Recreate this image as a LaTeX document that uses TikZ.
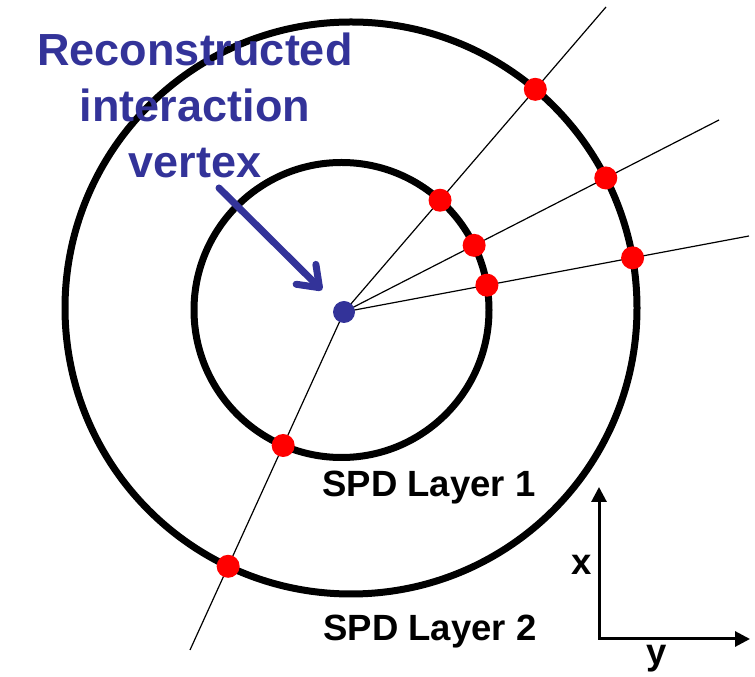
\documentclass[tikz,border=0pt]{standalone}
\usepackage{fontspec}
\setmainfont{Liberation Sans}
\usetikzlibrary{arrows.meta,calc,intersections}
\definecolor{vtxblue}{HTML}{333399}
\definecolor{hitred} {HTML}{FF0000}
\tikzset{
  % --- layers and tracks
  layer/.style   = {draw=black, line width=7pt},
  track/.style   = {draw=black, line width=1.2pt},
  % --- points
  hit/.style     = {circle, fill=hitred, inner sep=0pt, minimum size=23pt},
  vtx/.style     = {circle, fill=vtxblue, inner sep=0pt, minimum size=22pt},
  % --- text
  title/.style   = {font=\fontsize{45}{56}\selectfont\bfseries, text=vtxblue,
                    align=center, inner sep=0pt},
  lbl/.style     = {font=\fontsize{36.5}{40}\selectfont\bfseries, text=black, inner sep=0pt},
  % --- arrows
  axis/.style    = {arrows={Triangle[length=15pt,width=15pt]-Triangle[length=15pt,width=15pt]},
                    line width=3pt},
  pointer/.style = {-{Straight Barb[length=19pt,width=28pt,round]}, line width=7pt,
                    draw=vtxblue, line cap=round},
}
\begin{document}
\begin{tikzpicture}[x=1pt,y=1pt]
  \useasboundingbox (0,0) rectangle (755,677);

  % SPD layers
  \path[layer, name path=inner] (341.5,367) circle[radius=147.5];
  \path[layer, name path=outer] (351,369) circle[radius=286];

  % tracks from the vertex
  \coordinate (V) at (344,365);
  \coordinate (end1) at (606,670);
  \coordinate (end2) at (719,557);
  \coordinate (end3) at (749,441);
  \coordinate (end4) at (190,27);
  \foreach \t in {1,...,4}
    \path[track, name path global=tr\t] (V) -- (end\t);

  % hits on both layers
  \foreach \t in {1,...,4}{
    \path[name intersections={of=inner and tr\t, by={in\t}}];
    \path[name intersections={of=outer and tr\t, by={out\t}}];
    \node[hit] (hitin\t)  at (in\t)  {};
    \node[hit] (hitout\t) at (out\t) {};
  }
  \node[vtx] (vtx) at (V) {};

  \node[title] (title) at (195,572) {Reconstructed\\interaction\\vertex};
  \coordinate (ptr) at (219,489);
  \draw[pointer, shorten >=31pt] (ptr) -- (vtx.center);

  \node[lbl, anchor=base] (layer1) at (429,180) {SPD Layer 1};
  \node[lbl, anchor=base] (layer2) at (430,36) {SPD Layer 2};

  % axes
  \coordinate (orig) at (599,38);
  \coordinate (xtip) at (599,190);
  \coordinate (ytip) at (750,38);
  \draw[axis] (xtip) -- (orig) -- (ytip);
  \node[lbl, anchor=base] (xlab) at (582,102) {x};
  \node[lbl, anchor=base] (ylab) at (657,12) {y};
\end{tikzpicture}
\end{document}
